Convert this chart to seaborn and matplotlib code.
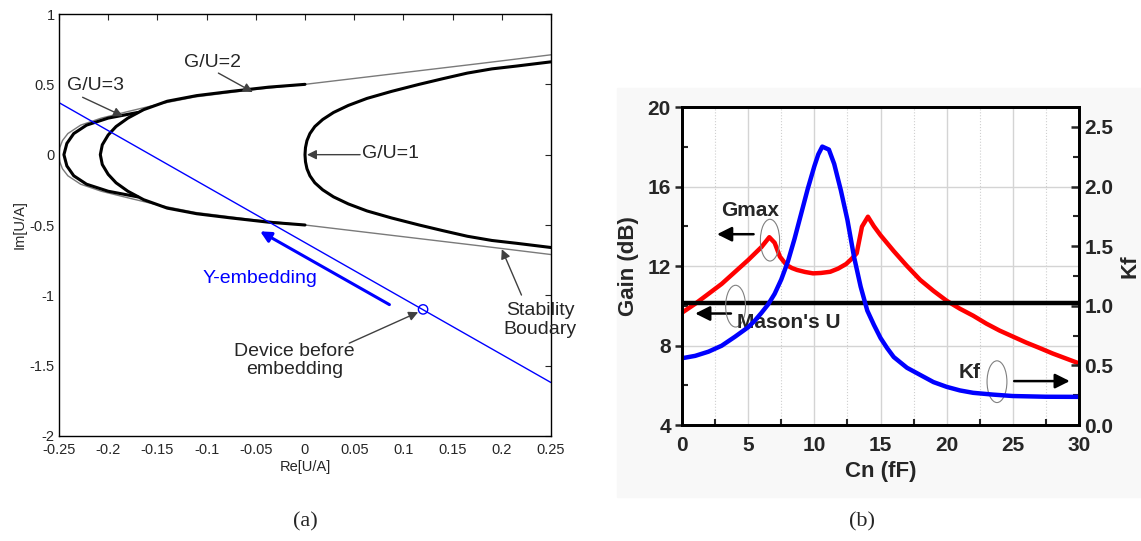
import matplotlib
matplotlib.use("Agg")
import matplotlib.pyplot as plt
import seaborn as sns
import numpy as np
from matplotlib.patches import Ellipse, Rectangle
from matplotlib.ticker import MultipleLocator

# ---- panel (a): G/U contours in the U/A plane ----
gu1_im = [0.66, 0.63, 0.61, 0.58, 0.54, 0.5, 0.45, 0.4, 0.35, 0.3, 0.25, 0.2, 0.15, 0.1, 0.05, 0.0,
          -0.05, -0.1, -0.15, -0.2, -0.25, -0.3, -0.35, -0.4, -0.45, -0.5, -0.54, -0.58, -0.61, -0.63, -0.66]
gu1_re = [0.25, 0.215, 0.19, 0.165, 0.14, 0.116, 0.088, 0.063, 0.044, 0.029, 0.018, 0.01, 0.005, 0.002, 0.0005, 0.0,
          0.0005, 0.002, 0.005, 0.01, 0.018, 0.029, 0.044, 0.063, 0.088, 0.116, 0.14, 0.165, 0.19, 0.215, 0.25]

gu2_im = [0.5, 0.48, 0.45, 0.42, 0.38, 0.32, 0.26, 0.2, 0.14, 0.07, 0.0,
          -0.07, -0.14, -0.2, -0.26, -0.32, -0.38, -0.42, -0.45, -0.48, -0.5]
gu2_re = [0.0, -0.037, -0.075, -0.11, -0.14, -0.164, -0.18, -0.192, -0.2, -0.206, -0.208,
          -0.206, -0.2, -0.192, -0.18, -0.164, -0.14, -0.11, -0.075, -0.037, 0.0]

gu3_im = [0.3, 0.26, 0.21, 0.15, 0.08, 0.0, -0.08, -0.15, -0.21, -0.26, -0.3]
gu3_re = [-0.17, -0.2, -0.222, -0.235, -0.242, -0.245, -0.242, -0.235, -0.222, -0.2, -0.17]

stab_im = [0.71, 0.65, 0.6, 0.55, 0.5, 0.46, 0.41, 0.36, 0.31, 0.26, 0.21, 0.15, 0.1, 0.05, 0.0,
           -0.05, -0.1, -0.15, -0.21, -0.26, -0.31, -0.36, -0.41, -0.46, -0.5, -0.55, -0.6, -0.65, -0.71]
stab_re = [0.25, 0.18, 0.12, 0.06, 0.0, -0.055, -0.112, -0.148, -0.178, -0.207, -0.228, -0.241, -0.2465, -0.2492, -0.25,
           -0.2492, -0.2465, -0.241, -0.228, -0.207, -0.178, -0.148, -0.112, -0.055, 0.0, 0.06, 0.12, 0.18, 0.25]

yemb_re = [-0.25, 0.25]
yemb_im = [0.37, -1.62]
device_re = [0.12]
device_im = [-1.10]

a_xticks = [-0.25, -0.2, -0.15, -0.1, -0.05, 0, 0.05, 0.1, 0.15, 0.2, 0.25]
a_xlabels = ["-0.25", "-0.2", "-0.15", "-0.1", "-0.05", "0", "0.05", "0.1", "0.15", "0.2", "0.25"]
a_yticks = [-2, -1.5, -1, -0.5, 0, 0.5, 1]
a_ylabels = ["-2", "-1.5", "-1", "-0.5", "0", "0.5", "1"]

# ---- panel (b): gain / Kf versus Cn ----
cn_gmax = [0, 1, 2, 3, 4, 5, 6, 6.6, 7.0, 7.4, 7.9, 8.3, 8.7, 9.3, 9.9, 10.5, 11.2, 11.8, 12.4, 12.8, 13.2,
           13.6, 14.05, 14.5, 15, 16, 17, 18, 19, 20, 21, 22, 23, 24, 25, 26, 27, 28, 29, 30]
gmax = [9.65, 10.1, 10.6, 11.1, 11.7, 12.3, 12.95, 13.45, 13.17, 12.47, 12.05, 11.9, 11.8, 11.7, 11.63, 11.65,
        11.71, 11.87, 12.1, 12.35, 12.64, 13.98, 14.48, 14.0, 13.55, 12.75, 12.0, 11.3, 10.75, 10.25, 9.85,
        9.5, 9.1, 8.75, 8.45, 8.15, 7.88, 7.6, 7.35, 7.1]

cn_kf = [0, 1, 2, 3, 4, 5, 5.5, 6, 6.5, 7, 7.5, 8, 8.5, 9, 9.5, 10, 10.3, 10.6, 11.1, 11.5, 12, 12.5,
         13, 13.5, 14, 14.5, 15, 15.5, 16, 17, 18, 19, 20, 21, 22, 23.5, 25, 27.5, 30]
kf = [0.56, 0.58, 0.615, 0.665, 0.74, 0.82, 0.875, 0.94, 1.01, 1.10, 1.22, 1.37, 1.56, 1.77, 1.98, 2.17,
      2.27, 2.335, 2.31, 2.19, 1.97, 1.72, 1.41, 1.16, 0.96, 0.84, 0.73, 0.645, 0.57, 0.48, 0.42, 0.36,
      0.32, 0.29, 0.27, 0.255, 0.243, 0.237, 0.236]

cn_u = [0, 30]
mason_u = [10.15, 10.15]

sns.set_style("white")
plt.rcParams['font.family'] = ['Liberation Sans', 'DejaVu Sans']

fig = plt.figure(figsize=(11.41, 5.41), dpi=100)
fig.patches.append(Rectangle((617 / 1141, 1 - 497 / 541), (1141 - 617) / 1141, (497 - 88) / 541,
                             transform=fig.transFigure, color='#f8f8f8', zorder=0))

# ================= panel (a) =================
ax1 = fig.add_axes([0.0517, 0.1941, 0.4312, 0.780])
curve_kw = dict(sort=False, estimator=None, ax=ax1)
sns.lineplot(x=stab_re, y=stab_im, color='#7a7a7a', lw=1.0, **curve_kw)
sns.lineplot(x=gu1_re, y=gu1_im, color='black', lw=2.2, **curve_kw)
sns.lineplot(x=gu2_re, y=gu2_im, color='black', lw=2.2, **curve_kw)
sns.lineplot(x=gu3_re, y=gu3_im, color='black', lw=2.2, **curve_kw)
sns.lineplot(x=yemb_re, y=yemb_im, color='#0000ff', lw=1.0, **curve_kw)
sns.scatterplot(x=device_re, y=device_im, marker='o', s=45, facecolor='none',
                edgecolor='#0000ff', linewidth=1.0, ax=ax1, zorder=5)

ax1.set_xlim(-0.25, 0.25)
ax1.set_ylim(-2, 1)
ax1.set_xticks(a_xticks)
ax1.set_xticklabels(a_xlabels)
ax1.set_yticks(a_yticks)
ax1.set_yticklabels(a_ylabels)
ax1.tick_params(direction='in', top=True, right=True, length=4, width=0.8, labelsize=10.5)
ax1.tick_params(axis='x', pad=5)
ax1.tick_params(axis='y', pad=3)
for s in ax1.spines.values():
    s.set_linewidth(1.0)
    s.set_color('black')
ax1.set_xlabel("Re[U/A]", fontsize=10.5, labelpad=2)
ax1.set_ylabel("Im[U/A]", fontsize=10.5, labelpad=2)

gray_arrow = dict(arrowstyle='-|>', color='#404040', lw=1.0, mutation_scale=14, shrinkA=0, shrinkB=0)
ax1.annotate('', xy=(-0.053, 0.445), xytext=(-0.088, 0.58), arrowprops=gray_arrow)
ax1.annotate('', xy=(-0.185, 0.274), xytext=(-0.226, 0.408), arrowprops=gray_arrow)
ax1.annotate('', xy=(0.002, 0.0), xytext=(0.056, 0.0), arrowprops=gray_arrow)
ax1.annotate('', xy=(0.2, -0.672), xytext=(0.22, -0.998), arrowprops=gray_arrow)
ax1.annotate('', xy=(0.115, -1.12), xytext=(0.045, -1.34), arrowprops=gray_arrow)
ax1.annotate('', xy=(-0.0456, -0.545), xytext=(0.0858, -1.066),
             arrowprops=dict(arrowstyle='-|>', color='#0000ff', lw=2.2, mutation_scale=16,
                             shrinkA=0, shrinkB=0))

ax1.text(-0.094, 0.653, "G/U=2", fontsize=14, ha='center', va='center')
ax1.text(-0.213, 0.494, "G/U=3", fontsize=14, ha='center', va='center')
ax1.text(0.0575, 0.01, "G/U=1", fontsize=14, ha='left', va='center')
ax1.text(0.239, -1.176, "Stability\nBoudary", fontsize=14, ha='center', va='center',
         linespacing=1.1, clip_on=False)
ax1.text(-0.0105, -1.462, "Device before\nembedding", fontsize=14, ha='center', va='center',
         linespacing=1.1)
ax1.text(-0.0456, -0.883, "Y-embedding", fontsize=14, ha='center', va='center', color='#0000ff')

# ================= panel (b) =================
ax2 = fig.add_axes([0.5977, 0.2144, 0.348, 0.5878])
ax2.set_zorder(1)
ax3 = ax2.twinx()
ax3.set_zorder(2)
ax3.patch.set_visible(False)

sns.lineplot(x=cn_gmax, y=gmax, color='#ff0000', lw=3.2, ax=ax2)
sns.lineplot(x=cn_u, y=mason_u, color='black', lw=3.2, ax=ax2)
sns.lineplot(x=cn_kf, y=kf, color='#0000ff', lw=3.2, ax=ax3)

ax2.set_xlim(0, 30)
ax2.set_ylim(4, 20)
ax3.set_ylim(0, 2.667)
ax2.xaxis.set_major_locator(MultipleLocator(5))
ax2.xaxis.set_minor_locator(MultipleLocator(2.5))
ax2.yaxis.set_major_locator(MultipleLocator(4))
ax2.yaxis.set_minor_locator(MultipleLocator(2))
ax3.yaxis.set_minor_locator(MultipleLocator(0.25))
ax3.set_yticks([0, 0.5, 1.0, 1.5, 2.0, 2.5])
ax3.set_yticklabels(["0.0", "0.5", "1.0", "1.5", "2.0", "2.5"])

ax2.grid(which='major', axis='both', color='#d4d4d4', lw=1.0, ls='-')
ax2.grid(which='minor', axis='x', color='#cfcfcf', lw=0.8, ls=':')
ax2.set_axisbelow(True)

ax2.tick_params(which='major', direction='out', length=5, width=1.8, labelsize=15, pad=3)
ax2.tick_params(which='minor', direction='in', length=4, width=1.5, left=True, bottom=True)
ax3.tick_params(which='major', direction='in', length=6, width=1.8, labelsize=15, pad=4)
ax3.tick_params(which='minor', direction='in', length=4, width=1.5, right=True)
for lab in ax2.get_xticklabels() + ax2.get_yticklabels() + ax3.get_yticklabels():
    lab.set_fontweight('bold')
for ax in (ax2, ax3):
    for s in ax.spines.values():
        s.set_linewidth(2.0)
        s.set_color('black')

ax2.set_xlabel("Cn (fF)", fontsize=16, fontweight='bold', labelpad=4)
ax2.set_ylabel("Gain (dB)", fontsize=16, fontweight='bold', labelpad=6)
ax3.set_ylabel("Kf", fontsize=16, fontweight='bold', labelpad=4)

ell_kw = dict(fill=False, edgecolor='#808080', lw=0.8, zorder=6)
ax2.add_patch(Ellipse((6.65, 13.3), 1.45, 2.1, **ell_kw))
ax2.add_patch(Ellipse((4.05, 9.98), 1.5, 2.1, **ell_kw))
ax2.add_patch(Ellipse((23.8, 6.18), 1.5, 2.1, **ell_kw))

blk_arrow = dict(arrowstyle='-|>', color='black', lw=1.8, mutation_scale=22, shrinkA=0, shrinkB=0)
ax2.annotate('', xy=(2.65, 13.6), xytext=(5.41, 13.6), arrowprops=blk_arrow)
ax2.annotate('', xy=(1.0, 9.61), xytext=(3.7, 9.61), arrowprops=blk_arrow)
ax2.annotate('', xy=(29.3, 6.21), xytext=(25.1, 6.21), arrowprops=blk_arrow)
ax2.text(5.15, 14.77, "Gmax", fontsize=15, fontweight='bold', ha='center', va='center', zorder=7)
ax2.text(8.1, 9.16, "Mason's U", fontsize=15, fontweight='bold', ha='center', va='center', zorder=7)
ax2.text(21.7, 6.63, "Kf", fontsize=15, fontweight='bold', ha='center', va='center', zorder=7)

# panel captions
fig.text(305 / 1141, 1 - 522 / 541, "(a)", fontsize=16, family=['Liberation Serif'], ha='center', va='center')
fig.text(862 / 1141, 1 - 522 / 541, "(b)", fontsize=16, family=['Liberation Serif'], ha='center', va='center')

fig.savefig("out.png", dpi=100)
